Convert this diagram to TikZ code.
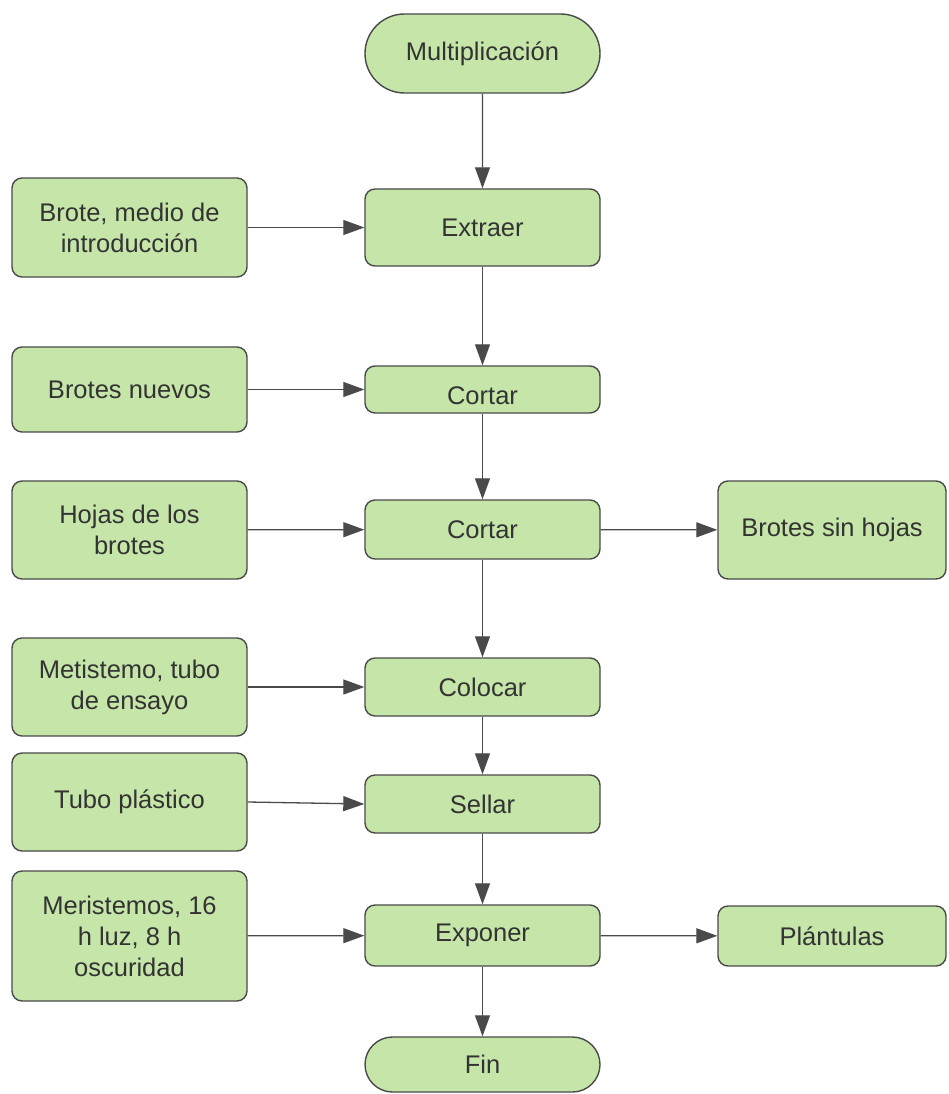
\documentclass[tikz,border=0pt]{standalone}
\usepackage{fontspec}
\setmainfont{Liberation Sans}
\usetikzlibrary{arrows.meta,shapes.misc}
\definecolor{boxfill}{HTML}{C5E6A8}
\definecolor{boxline}{HTML}{4A4A4A}
\definecolor{txt}{HTML}{333333}
\begin{document}
\begin{tikzpicture}[x=1pt,y=-1pt,
  base/.style={draw=boxline, fill=boxfill, line width=1.4pt, text=txt, inner sep=0pt, align=center,
    font=\fontsize{25.5}{31}\selectfont},
  proc/.style={base, rounded corners=10pt, minimum width=235pt},
  term/.style={base, rounded rectangle, minimum width=235pt},
  conn/.style={draw=boxline, line width=1.3pt, -{Triangle[length=21pt,width=15pt]}}]
\useasboundingbox (0,0) rectangle (948,1094);
% main column
\node[term, minimum height=79pt] (mult) at (482.5,53.5) {Multiplicación};
\node[proc, minimum height=77pt] (extraer) at (482.5,227.5) {Extraer};
\node[proc, minimum height=47pt, text depth=0pt, text height=30pt] (cortar1) at (482.5,389.5) {Cortar};
\node[proc, minimum height=59pt] (cortar2) at (482.5,529.5) {Cortar};
\node[proc, minimum height=58pt] (colocar) at (482.5,687) {Colocar};
\node[proc, minimum height=58pt] (sellar) at (482.5,804) {Sellar};
\node[proc, minimum height=61pt] (exponer) at (482.5,935.5) {Exponer};
\node[term, minimum height=55pt] (fin) at (482.5,1064.5) {Fin};
% inputs
\node[proc, minimum height=99pt] (in1) at (129.5,227.5) {Brote, medio de\\introducción};
\node[proc, minimum height=85pt] (in2) at (129.5,389.5) {Brotes nuevos};
\node[proc, minimum height=98pt] (in3) at (129.5,530) {Hojas de los\\brotes};
\node[proc, minimum height=98pt] (in4) at (129.5,687) {Metistemo, tubo\\de ensayo};
\node[proc, minimum height=98pt] (in5) at (129.5,802) {Tubo plástico};
\node[proc, minimum height=130pt] (in6) at (129.5,936) {Meristemos, 16\\h luz, 8 h\\oscuridad};
% outputs
\node[proc, minimum height=98pt, minimum width=228pt] (out1) at (832,530) {Brotes sin hojas};
\node[proc, minimum height=60pt, minimum width=228pt] (out2) at (832,936) {Plántulas};
% connectors
\draw[conn] (mult) -- (extraer);
\draw[conn] (extraer) -- (cortar1);
\draw[conn] (cortar1) -- (cortar2);
\draw[conn] (cortar2) -- (colocar);
\draw[conn] (colocar) -- (sellar);
\draw[conn] (sellar) -- (exponer);
\draw[conn] (exponer) -- (fin);
\draw[conn] (in1) -- (extraer);
\draw[conn] (in2) -- (cortar1);
\draw[conn] (in3) -- (cortar2);
\draw[conn] (in4) -- (colocar);
\draw[conn] (in5.east) -- (sellar.west);
\draw[conn] (in6) -- (exponer);
\draw[conn] (cortar2) -- (out1);
\draw[conn] (exponer) -- (out2);
\end{tikzpicture}
\end{document}
